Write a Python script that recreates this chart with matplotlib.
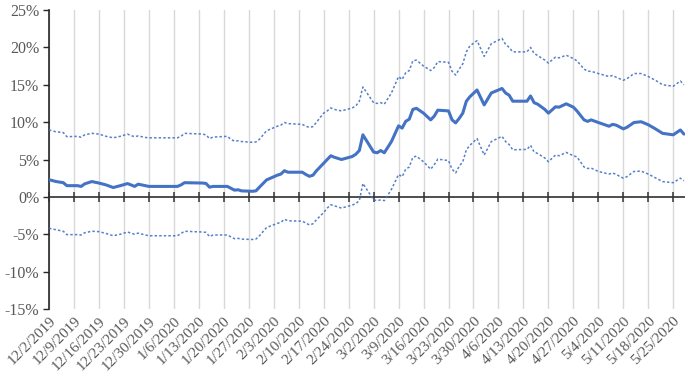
import matplotlib
matplotlib.use("Agg")
import matplotlib.pyplot as plt
import numpy as np
import pandas as pd

base_date = "2019-12-02"
day_offsets = [0, 2, 4, 5, 8, 9, 10, 12, 14, 16, 18, 20, 22, 23, 24, 25, 27, 28,
               36, 37, 38, 43, 44, 45, 46, 50, 51, 52, 53, 54, 57, 58, 59, 61,
               64, 65, 66, 67, 71, 72, 73, 74, 75, 77, 78, 79, 80, 82, 85, 86,
               87, 88, 91, 92, 93, 94, 96, 98, 99, 100, 101, 102, 103, 105, 107,
               108, 109, 112, 113, 114, 115, 116, 117, 118, 120, 122, 124, 127,
               128, 129, 130, 134, 135, 136, 137, 139, 140, 142, 143, 145, 147,
               148, 150, 151, 152, 154, 157, 158, 159, 161, 162, 164, 166, 168,
               170, 172, 175, 177, 178]

central = [2.3, 2.05, 1.9, 1.5, 1.5, 1.4, 1.74, 2.05, 1.85, 1.6, 1.25, 1.5, 1.78,
           1.6, 1.4, 1.7, 1.5, 1.4,
           1.4, 1.6, 1.9, 1.85, 1.8, 1.3, 1.4, 1.4, 1.15, 0.9, 0.95, 0.8, 0.75, 0.8,
           1.3, 2.27,
           2.9, 3.05, 3.5, 3.3, 3.3, 3.0, 2.75, 2.9, 3.5, 4.5, 5.0, 5.5, 5.3, 5.0,
           5.4, 5.7,
           6.2, 8.3, 6.0, 5.9, 6.2, 5.9, 7.4, 9.5, 9.2, 10.1, 10.4, 11.7, 11.85,
           11.2, 10.3,
           10.8, 11.6, 11.5, 10.3, 9.9, 10.5, 11.2, 12.8, 13.4, 14.3, 12.3, 13.9,
           14.5,
           13.9, 13.6, 12.8, 12.8, 13.5, 12.6, 12.4, 11.7, 11.2, 12.05, 12.0, 12.45,
           12.0,
           11.5, 10.3, 10.1, 10.3, 9.95, 9.45, 9.7, 9.6, 9.1, 9.3, 9.95, 10.05, 9.65,
           9.1, 8.5, 8.3, 8.95, 8.4]

upper = [8.95, 8.7, 8.6, 8.05, 8.1, 7.98, 8.3, 8.5, 8.4, 8.1, 7.9, 8.1, 8.4,
         8.2, 8.05, 8.15, 7.95, 7.9,
         7.9, 8.1, 8.5, 8.4, 8.3, 7.8, 8.0, 8.1, 7.7, 7.45, 7.5, 7.4, 7.3, 7.35,
         7.7, 8.85,
         9.45, 9.6, 9.95, 9.8, 9.7, 9.45, 9.3, 9.4, 10.0, 11.2, 11.5, 11.9, 11.7,
         11.5, 11.9, 12.15,
         12.8, 14.7, 12.6, 12.5, 12.6, 12.4, 13.9, 16.1, 15.7, 16.6, 16.9, 18.2,
         18.3, 17.5, 16.9,
         17.3, 18.1, 18.0, 16.8, 16.3, 17.1, 17.8, 19.4, 20.2, 20.9, 18.8, 20.5,
         21.2,
         20.4, 20.0, 19.4, 19.4, 20.0, 19.2, 18.9, 18.3, 17.9, 18.7, 18.6, 18.95,
         18.5,
         18.2, 17.1, 16.8, 16.8, 16.5, 16.1, 16.25, 16.0, 15.6, 15.8, 16.5, 16.5,
         16.1,
         15.6, 15.0, 14.8, 15.5, 15.0]

lower = [-4.2, -4.4, -4.6, -5.05, -5.05, -5.1, -4.8, -4.6, -4.65, -4.9, -5.2, -5.0,
         -4.7, -4.85, -5.0, -4.85, -5.1, -5.2,
         -5.2, -4.9, -4.6, -4.7, -4.75, -5.3, -5.1, -5.1, -5.35, -5.6, -5.55, -5.65,
         -5.7, -5.65, -5.2, -4.1,
         -3.55, -3.4, -3.0, -3.2, -3.25, -3.5, -3.75, -3.6, -3.05, -2.1, -1.5, -1.05,
         -1.2, -1.5, -1.1, -0.9,
         -0.5, 1.8, -0.4, -0.5, -0.4, -0.5, 1.0, 3.0, 2.7, 3.7, 4.0, 5.3, 5.45,
         4.7, 3.7,
         4.3, 5.05, 4.86, 3.7, 3.2, 4.1, 4.7, 6.3, 6.9, 7.8, 5.6, 7.4, 8.1,
         7.4, 7.0, 6.3, 6.35, 6.9, 6.0, 5.8, 5.2, 4.7, 5.6, 5.5, 5.95, 5.5,
         5.35, 4.0, 3.8, 3.85, 3.4, 3.05, 3.2, 3.0, 2.5, 2.7, 3.4, 3.45, 3.05,
         2.55, 2.05, 1.9, 2.5, 2.15]

y_ticks = [-15, -10, -5, 0, 5, 10, 15, 20, 25]
y_tick_labels = ["-15%", "-10%", "-5%", "0%", "5%", "10%", "15%", "20%", "25%"]
x_tick_labels = ["12/2/2019", "12/9/2019", "12/16/2019", "12/23/2019", "12/30/2019",
                 "1/6/2020", "1/13/2020", "1/20/2020", "1/27/2020", "2/3/2020",
                 "2/10/2020", "2/17/2020", "2/24/2020", "3/2/2020", "3/9/2020",
                 "3/16/2020", "3/23/2020", "3/30/2020", "4/6/2020", "4/13/2020",
                 "4/20/2020", "4/27/2020", "5/4/2020", "5/11/2020", "5/18/2020",
                 "5/25/2020"]

dates = pd.Timestamp(base_date) + pd.to_timedelta(day_offsets, unit="D")
tick_dates = pd.to_datetime(x_tick_labels, format="%m/%d/%Y")

plt.rcParams['font.family'] = ['Liberation Serif', 'DejaVu Serif']

fig = plt.figure(figsize=(6.88, 3.82), dpi=100)
ax = fig.add_axes([49/688, 1-309/382, (685-49)/688, (309-10)/382])

color = "#4472C4"
ax.plot(dates, upper, color=color, lw=1.1, ls=(0, (1.6, 1.4)), alpha=0.9, zorder=3)
ax.plot(dates, lower, color=color, lw=1.1, ls=(0, (1.6, 1.4)), alpha=0.9, zorder=3)
ax.plot(dates, central, color=color, lw=2.2, solid_capstyle="round", zorder=4)

ax.set_ylim(-15, 25)
ax.set_xlim(pd.Timestamp(base_date), pd.Timestamp(base_date) + pd.Timedelta(days=178.3))

ax.set_yticks(y_ticks)
ax.set_yticklabels(y_tick_labels)
ax.set_xticks(tick_dates)
ax.set_xticklabels(x_tick_labels, rotation=45, ha="right", rotation_mode="anchor")

for s in ["top", "right", "bottom"]:
    ax.spines[s].set_visible(False)
ax.spines["left"].set_color("#262626")
ax.spines["left"].set_linewidth(1.2)

ax.tick_params(axis="y", direction="out", length=4, width=1, color="#262626",
               labelcolor="#595959", labelsize=11.5, pad=3)
ax.tick_params(axis="x", length=0, labelcolor="#595959", labelsize=11, pad=4)

ax.grid(axis="x", color="#d9d9d9", lw=1)
ax.set_axisbelow(True)

ax.axhline(0, color="#404040", lw=1.3, zorder=2)
sec = ax.secondary_xaxis(15/40)
sec.set_zorder(2.5)
sec.set_xticks(tick_dates)
sec.tick_params(axis="x", direction="inout", length=7, width=1.1, color="#333333",
                labelbottom=False, labeltop=False)
sec.spines["bottom"].set_visible(False)
sec.spines["top"].set_visible(False)
sec.set_xticklabels([])

fig.savefig("out.png", dpi=100)
